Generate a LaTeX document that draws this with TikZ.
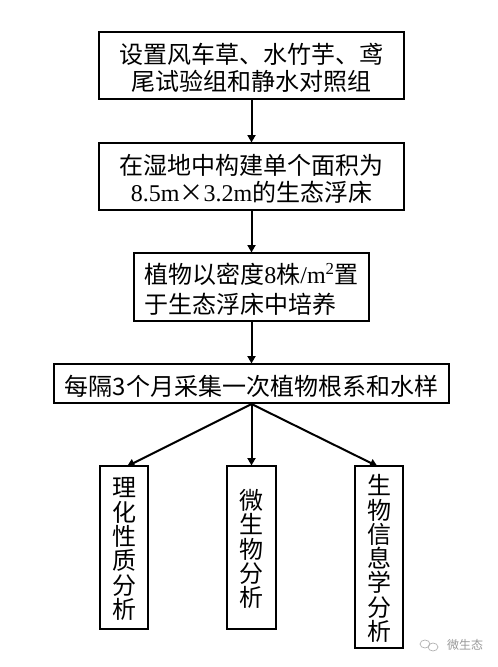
\documentclass[tikz,border=0pt]{standalone}
\usepackage{fontspec}
\setmainfont{Liberation Serif}
\newfontfamily\cjk{Noto Sans CJK SC}
\usetikzlibrary{arrows.meta}
\lineskiplimit=-20pt
\normallineskiplimit=-20pt
\tikzset{
  x=1pt,y=-1pt,
  flowbox/.style={draw=black,line width=2pt,inner sep=0pt,font=\cjk\fontsize{24}{27}\selectfont},
  widebox/.style={flowbox,font=\cjk\fontsize{24}{30}\selectfont},
  tallbox/.style={flowbox,align=center,font=\cjk\fontsize{24}{24.3}\selectfont},
  flowarrow/.style={draw=black,line width=2pt,-{Triangle[width=8pt,length=7.5pt]},shorten >=-0.5pt},
}
\newcommand{\lat}[1]{{\rmfamily\normalfont\fontsize{24}{27}\selectfont #1}}
\newcommand{\dn}[1]{\raisebox{-2.5pt}[\height][\depth]{#1}}
\newcommand{\tdn}[1]{\raisebox{-1.5pt}[\height][\depth]{#1}}
\begin{document}
\begin{tikzpicture}
\useasboundingbox (0,0) rectangle (498,667);
\node[flowbox,minimum width=305pt,minimum height=67pt,align=center] (b1) at (251.5,65.5) {\dn{设置风车草、水竹芋、鸢}\\\dn{尾试验组和静水对照组}};
\node[flowbox,minimum width=305pt,minimum height=67pt,align=center] (b2) at (251.5,176.5) {\dn{在湿地中构建单个面积为}\\\dn{\lat{8.5m}×\lat{3.2m}的生态浮床}};
\node[widebox,minimum width=235pt,minimum height=68pt,align=left] (b3) at (251.5,287) {\dn{植物以密度\lat{8}株\lat{/m\textsuperscript{2}}置}\\\dn{于生态浮床中培养}};
\node[flowbox,minimum width=395pt,minimum height=39pt,align=center] (b4) at (251.5,383.5) {\dn{每隔3个月采集一次植物根系和水样}};
\node[tallbox,minimum width=48pt,minimum height=163pt] (b5) at (124,547.5) {\tdn{理}\\\tdn{化}\\\tdn{性}\\\tdn{质}\\\tdn{分}\\\tdn{析}};
\node[tallbox,minimum width=49pt,minimum height=163pt] (b6) at (251.5,547.5) {\tdn{微}\\\tdn{生}\\\tdn{物}\\\tdn{分}\\\tdn{析}};
\node[tallbox,minimum width=48pt,minimum height=182pt] (b7) at (379,557) {\tdn{生}\\\tdn{物}\\\tdn{信}\\\tdn{息}\\\tdn{学}\\\tdn{分}\\\tdn{析}};
\coordinate (t5) at (127.5,466);
\coordinate (t7) at (377,466);
\draw[flowarrow] (b1) -- (b2);
\draw[flowarrow] (b2) -- (b3);
\draw[flowarrow] (b3) -- (b4);
\draw[flowarrow] (b4.south) -- (t5);
\draw[flowarrow] (b4.south) -- (b6.north);
\draw[flowarrow] (b4.south) -- (t7);
\node[text=black!40,font=\cjk\fontsize{12}{14}\selectfont,inner sep=0pt] (wm) at (465,645) {微生态};
\draw[black!30,line width=0.7pt] (425,644) ellipse (5pt and 4pt);
\draw[black!30,line width=0.7pt] (433,647) ellipse (5pt and 4pt);
\end{tikzpicture}
\end{document}
